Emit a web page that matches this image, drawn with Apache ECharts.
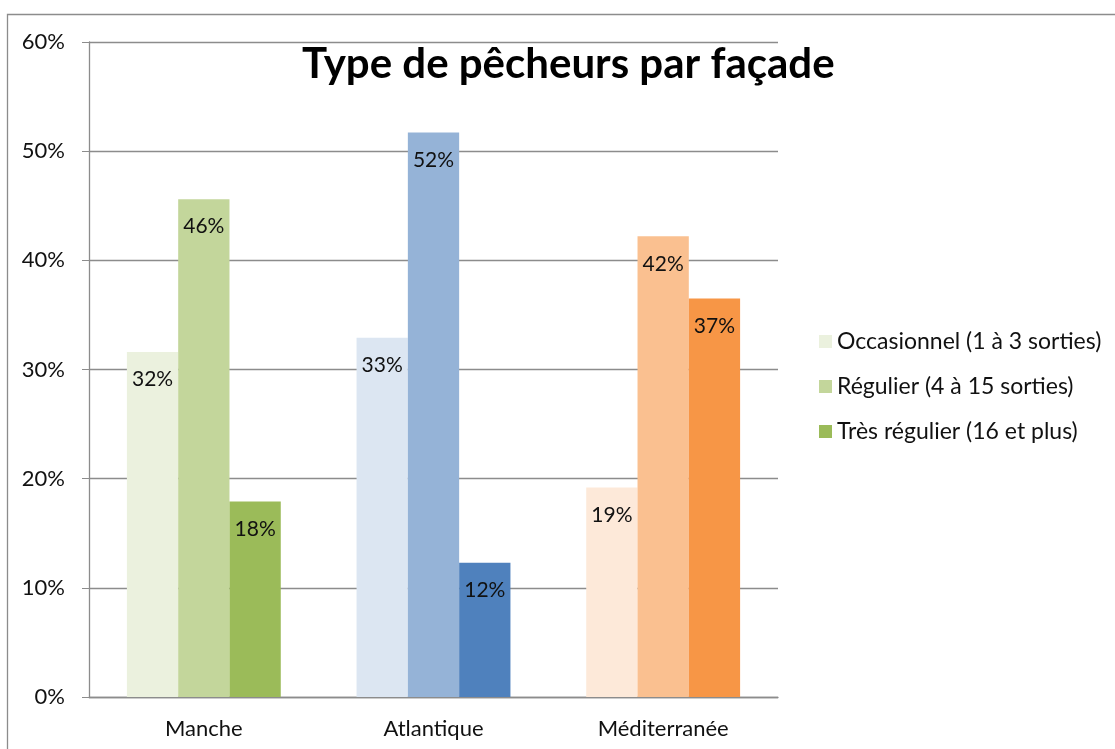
<!DOCTYPE html>
<html>
<head>
<meta charset="utf-8">
<script src="https://cdn.jsdelivr.net/npm/echarts@6/dist/echarts.min.js"></script>
<style>
  html, body { margin: 0; padding: 0; background: #fff; }
  #main { width: 1115px; height: 749px; }
</style>
</head>
<body>
<div id="main"></div>
<script>
// données
const facades = ['Manche', 'Atlantique', 'Méditerranée'];
const typeNames = ['Occasionnel (1 à 3 sorties)', 'Régulier (4 à 15 sorties)', 'Très régulier (16 et plus)'];
const occasionnel = [31.6, 32.9, 19.2];
const regulier = [45.6, 51.7, 42.2];
const tresRegulier = [17.9, 12.3, 36.5];

// une palette par façade, du plus clair au plus foncé
const palettes = [
    ['#EBF1DE', '#C3D69B', '#9BBB59'],
    ['#DCE6F2', '#95B3D7', '#4F81BD'],
    ['#FDE9D9', '#FAC090', '#F79646']
];

const FONT = 'Lato';
const GRID_COLOR = '#8c8c8c';

let makeSeries = function (values, idx) {
    return {
        name: typeNames[idx],
        type: 'bar',
        barGap: '0%',
        barCategoryGap: '33%',
        itemStyle: { color: palettes[0][idx] },
        data: values.map((v, i) => ({
            value: v,
            itemStyle: { color: palettes[i][idx] }
        })),
        label: {
            show: true,
            position: 'insideTop',
            distance: 17,
            color: '#111',
            fontFamily: FONT,
            fontSize: 21,
            formatter: p => Math.round(p.value) + '%'
        }
    };
};

let series = [occasionnel, regulier, tresRegulier].map(makeSeries);

let chart = echarts.init(document.getElementById('main'));
chart.setOption({
    animation: false,
    title: {
        text: 'Type de pêcheurs par façade',
        left: 297,
        top: 38,
        textStyle: { fontFamily: FONT, fontWeight: 'bold', fontSize: 42, color: '#000' }
    },
    legend: {
        orient: 'vertical',
        left: 819,
        top: 330,
        itemWidth: 13,
        itemHeight: 13,
        itemGap: 22,
        icon: 'rect',
        padding: 0,
        textStyle: { fontFamily: FONT, fontSize: 23, color: '#111' },
        data: typeNames
    },
    grid: { left: 89, right: 337, top: 42, bottom: 52 },
    xAxis: {
        type: 'category',
        data: facades,
        axisLine: { lineStyle: { color: GRID_COLOR, width: 1.3 } },
        axisTick: { length: 7, lineStyle: { color: GRID_COLOR } },
        axisLabel: { fontFamily: FONT, fontSize: 22, color: '#111', margin: 21 }
    },
    yAxis: {
        type: 'value',
        min: 0,
        max: 60,
        interval: 10,
        axisLine: { show: true, lineStyle: { color: GRID_COLOR, width: 1.3 } },
        axisTick: { show: true, length: 7, lineStyle: { color: GRID_COLOR } },
        splitLine: { lineStyle: { color: GRID_COLOR, width: 1.3 } },
        axisLabel: { fontFamily: FONT, fontSize: 22, color: '#111', margin: 24, formatter: '{value}%' }
    },
    graphic: [{
        type: 'rect',
        shape: { x: 7.5, y: 14.5, width: 1200, height: 800 },
        style: { fill: 'none', stroke: GRID_COLOR, lineWidth: 1.3 },
        silent: true
    }],
    series: series
});
</script>
</body>
</html>
